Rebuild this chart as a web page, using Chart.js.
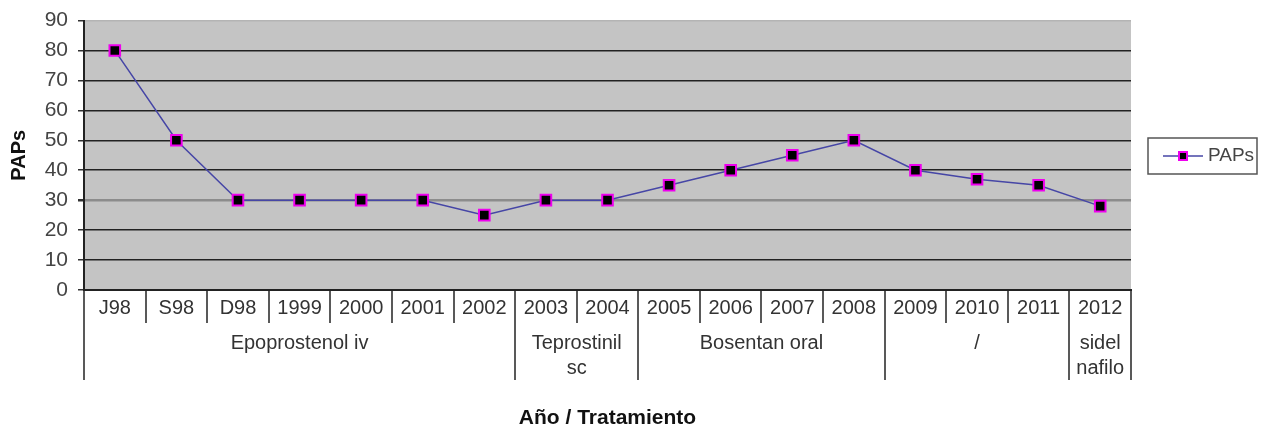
<!DOCTYPE html>
<html>
<head>
<meta charset="utf-8">
<script src="https://cdn.jsdelivr.net/npm/chart.js@4"></script>
<style>
  html, body { margin: 0; padding: 0; background: #fff; }
</style>
</head>
<body>
<canvas id="chart" width="1266" height="428"></canvas>
<script>
const categories = ['J98', 'S98', 'D98', '1999', '2000', '2001', '2002', '2003', '2004',
                    '2005', '2006', '2007', '2008', '2009', '2010', '2011', '2012'];
const paps = [80, 50, 30, 30, 30, 30, 25, 30, 30, 35, 40, 45, 50, 40, 37, 35, 28];
const groupLabels = [['Epoprostenol iv'], ['Teprostinil', 'sc'], ['Bosentan oral'], ['/'], ['sidel', 'nafilo']];
const groupSizes = [7, 2, 4, 3, 1];
const seriesName = 'PAPs';
const xTitle = 'Año / Tratamiento';
const yTitle = 'PAPs';

const FONT = '"Liberation Sans", Arial, sans-serif';
const LINE = '#4646a6';
const MARK_BORDER = '#ee00ee';

// grey plot background, category table under the axis, x title and legend
const tablePlugin = {
    id: 'table',
    beforeDraw(chart) {
        const { ctx, chartArea: a } = chart;
        ctx.save();
        ctx.fillStyle = '#c4c4c4';
        ctx.fillRect(a.left, a.top, a.right - a.left, a.bottom - a.top);
        ctx.restore();
    },
    afterDraw(chart) {
        const { ctx, chartArea: a } = chart;
        const x = chart.scales.x;
        const n = categories.length;
        const edge = i => i === 0 ? x.left : i === n ? x.right
            : (x.getPixelForValue(i - 1) + x.getPixelForValue(i)) / 2;

        const groupEdges = [0];
        groupSizes.forEach(s => groupEdges.push(groupEdges[groupEdges.length - 1] + s));

        ctx.save();
        ctx.strokeStyle = '#222';
        ctx.lineWidth = 1.5;
        for (let i = 0; i <= n; i++) {
            const long = groupEdges.includes(i);
            const px = Math.round(edge(i));
            ctx.beginPath();
            ctx.moveTo(px, a.bottom);
            ctx.lineTo(px, a.bottom + (long ? 90 : 33));
            ctx.stroke();
        }

        ctx.fillStyle = '#333';
        ctx.textAlign = 'center';
        ctx.textBaseline = 'middle';
        ctx.font = '20px ' + FONT;
        groupLabels.forEach((lines, g) => {
            const cx = (edge(groupEdges[g]) + edge(groupEdges[g + 1])) / 2;
            lines.forEach((t, k) => ctx.fillText(t, cx, a.bottom + 53 + k * 25));
        });

        ctx.fillStyle = '#111';
        ctx.font = 'bold 21px ' + FONT;
        ctx.fillText(xTitle, (a.left + a.right) / 2, 418);

        // legend
        const lx = 1148, ly = 138, lw = 109, lh = 36, my = ly + lh / 2;
        ctx.strokeStyle = '#555';
        ctx.lineWidth = 1.5;
        ctx.strokeRect(lx, ly, lw, lh);
        ctx.strokeStyle = LINE;
        ctx.beginPath();
        ctx.moveTo(lx + 15, my);
        ctx.lineTo(lx + 55, my);
        ctx.stroke();
        ctx.fillStyle = MARK_BORDER;
        ctx.fillRect(lx + 30, my - 5, 10, 10);
        ctx.fillStyle = '#000';
        ctx.fillRect(lx + 32, my - 3, 6, 6);
        ctx.fillStyle = '#444';
        ctx.textAlign = 'left';
        ctx.font = '19px ' + FONT;
        ctx.fillText(seriesName, lx + 60, my);
        ctx.restore();
    }
};

new Chart(document.getElementById('chart'), {
    type: 'line',
    data: {
        labels: categories,
        datasets: [{
            label: seriesName,
            data: paps,
            borderColor: LINE,
            borderWidth: 1.5,
            tension: 0,
            fill: false,
            pointStyle: 'rect',
            pointRadius: 7.5,
            pointBorderWidth: 2,
            pointBorderColor: MARK_BORDER,
            pointBackgroundColor: '#000'
        }]
    },
    options: {
        responsive: false,
        animation: false,
        layout: { padding: { top: 20, right: 135, bottom: 0, left: 0 } },
        plugins: {
            legend: { display: false },
            tooltip: { enabled: false }
        },
        scales: {
            x: {
                offset: true,
                grid: { display: false, drawTicks: false },
                border: { display: true, color: '#222', width: 2 },
                ticks: {
                    color: '#333',
                    font: { family: FONT, size: 20 },
                    padding: 6,
                    maxRotation: 0,
                    autoSkip: false
                },
                afterFit: scale => { scale.height = 138; }
            },
            y: {
                min: 0,
                max: 90,
                ticks: {
                    stepSize: 10,
                    color: '#444',
                    font: { family: FONT, size: 21, lineHeight: 1 },
                    padding: 10
                },
                grid: {
                    color: c => c.tick.value === 30 ? '#8c8c8c' : c.tick.value === 90 ? '#b4b4b4' : '#222',
                    lineWidth: c => c.tick.value === 30 ? 2.5 : 1.5,
                    tickColor: '#333',
                    tickLength: 6
                },
                border: { display: true, color: '#222', width: 2 },
                title: {
                    display: true,
                    text: yTitle,
                    color: '#111',
                    font: { family: FONT, size: 20, weight: 'bold' },
                    padding: { top: 7, bottom: 0 }
                },
                afterFit: scale => { scale.width = 84; }
            }
        }
    },
    plugins: [tablePlugin]
});
</script>
</body>
</html>
